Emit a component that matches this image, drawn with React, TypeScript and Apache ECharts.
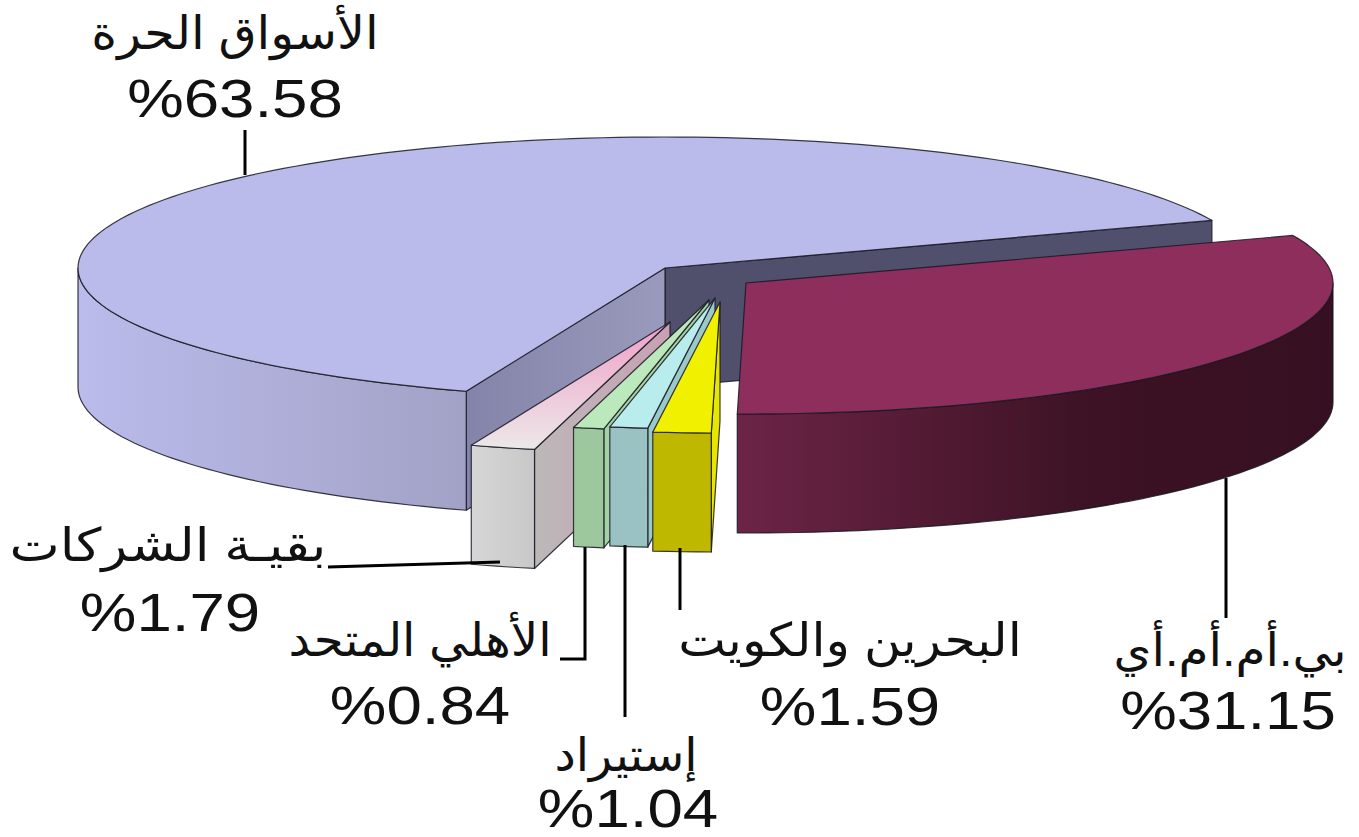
import React, { useEffect, useRef } from "react";
import * as echarts from "echarts";

const categories = ["الأسواق الحرة", "بقيـة الشركات", "الأهلي المتحد", "إستيراد", "البحرين والكويت", "بي.أم.أم.أي"];
const shares = [63.58, 1.79, 0.84, 1.04, 1.59, 31.15];

const W = 1359, H = 837;
const CX = 665, CY = 268, RX = 587, RY = 131, DEPTH = 119, START_DEG = 21.3;
const explode = [[0, 0], [5, 54], [44, 32], [50, 30], [55, 34], [81, 15]];

const grad = (a: string, b: string, v = false) => ({
  type: "linear", x: 0, y: 0, x2: v ? 0 : 1, y2: v ? 1 : 0,
  colorStops: [{ offset: 0, color: a }, { offset: 1, color: b }],
});
const topFill: any[] = ["#babaeb", grad("#f0a0c8", "#ece8e8", true), "#bce9bc", "#b9eded", "#f0f000", "#8e2e5c"];
const outerFill: any[] = [grad("#bbbbec", "#a2a2c6"), grad("#d6d6d6", "#c8c8c8"), "#9dc89d", "#9bc2c2", "#bfb800",
  { type: "linear", x: 0, y: 0, x2: 1, y2: 0, colorStops: [{ offset: 0, color: "#6c2446" }, { offset: 0.6, color: "#3c1224" }, { offset: 1, color: "#361022" }] }];
const endFill: any[] = [grad("#8484aa", "#9a9abc"), grad("#bcb8b8", "#c8a0b4"), "#a5d2a5", "#9bc8c8", "#e6e600", "#3c1224"];
const startFill = "#50506c";
const EDGE = "rgba(25,25,35,0.85)";

// label layout: name centre, value centre
const labelPos = [[235, 33, 235, 98], [168, 545, 170, 612], [420, 640, 420, 705], [626, 755, 628, 808], [850, 640, 850, 706], [1230, 650, 1228, 710]];
const nameScale = [1.07, 1.16, 1.05, 1.04, 1.1, 1.055];
const leaders = [
  [[245, 130], [245, 175]],
  [[328, 567], [500, 562]],
  [[585, 547], [585, 659], [560, 659]],
  [[625, 545], [625, 717]],
  [[680, 548], [680, 610]],
  [[1226, 478], [1226, 618]],
];

const total = shares.reduce((a, b) => a + b, 0);
const spans = shares.map((v) => (v / total) * 360);
const starts = spans.map((_, i) => START_DEG + spans.slice(0, i).reduce((a, b) => a + b, 0));

const rim = (tx: number, ty: number, deg: number, dy = 0): number[] => {
  const t = (deg * Math.PI) / 180;
  return [tx + RX * Math.cos(t), ty - RY * Math.sin(t) + dy];
};
const arc = (tx: number, ty: number, a0: number, a1: number, dy = 0): number[][] => {
  const n = Math.max(2, Math.ceil((a1 - a0) / 1.5));
  const out: number[][] = [];
  for (let k = 0; k <= n; k++) out.push(rim(tx, ty, a0 + ((a1 - a0) * k) / n, dy));
  return out;
};

function renderItem(params: any, api: any) {
  const i = params.dataIndex;
  const a0 = starts[i];
  const a1 = a0 + (api.value(0) / total) * 360;
  const tx = CX + explode[i][0], ty = CY + explode[i][1];
  const style = (fill: any) => ({ fill, stroke: EDGE, lineWidth: 1.2, lineJoin: "round" });
  const poly = (points: number[][], fill: any) => ({ type: "polygon", shape: { points }, style: style(fill) });
  const wall = (deg: number, fill: any) => {
    const e = rim(tx, ty, deg);
    return poly([[tx, ty], e, [e[0], e[1] + DEPTH], [tx, ty + DEPTH]], fill);
  };
  const children: any[] = [];
  if (Math.cos((a0 * Math.PI) / 180) > 0) children.push(wall(a0, startFill));
  if (Math.cos((a1 * Math.PI) / 180) < 0) children.push(wall(a1, endFill[i]));
  const o0 = Math.max(a0, 180), o1 = Math.min(a1, 360);
  if (o1 > o0) {
    const up = arc(tx, ty, o0, o1);
    const down = arc(tx, ty, o0, o1, DEPTH).reverse();
    children.push(poly([...up, ...down], outerFill[i]));
  }
  children.push(poly([[tx, ty], ...arc(tx, ty, a0, a1)], topFill[i]));
  return { type: "group", children };
}

export default function App() {
  const ref = useRef<HTMLDivElement>(null);
  useEffect(() => {
    const chart = echarts.init(ref.current!, null, { renderer: "svg", width: W, height: H });
    const graphic: any[] = [];
    leaders.forEach((pts) => graphic.push({
      type: "polyline", z: 10, shape: { points: pts }, style: { stroke: "#000", lineWidth: 3, fill: "none" },
    }));
    categories.forEach((c, i) => {
      const [nx, ny, vx, vy] = labelPos[i];
      graphic.push({
        type: "text", z: 11, x: nx, y: ny, scaleX: nameScale[i],
        style: { text: c, font: '46px "Liberation Sans", "DejaVu Sans", sans-serif', fill: "#111", textAlign: "center", textVerticalAlign: "middle" },
      });
      graphic.push({
        type: "text", z: 11, x: vx, y: vy, scaleX: 1.2,
        style: { text: `%${shares[i].toFixed(2)}`, font: '53px "Liberation Sans", sans-serif', fill: "#111", textAlign: "center", textVerticalAlign: "middle" },
      });
    });
    chart.setOption({
      animation: false,
      backgroundColor: "#fff",
      series: [{
        type: "custom", coordinateSystem: "none", renderItem, silent: true,
        data: shares.map((v) => [v]),
      }],
      graphic,
    });
    return () => chart.dispose();
  }, []);
  return <div ref={ref} style={{ position: "fixed", left: 0, top: 0, width: W, height: H }} />;
}
